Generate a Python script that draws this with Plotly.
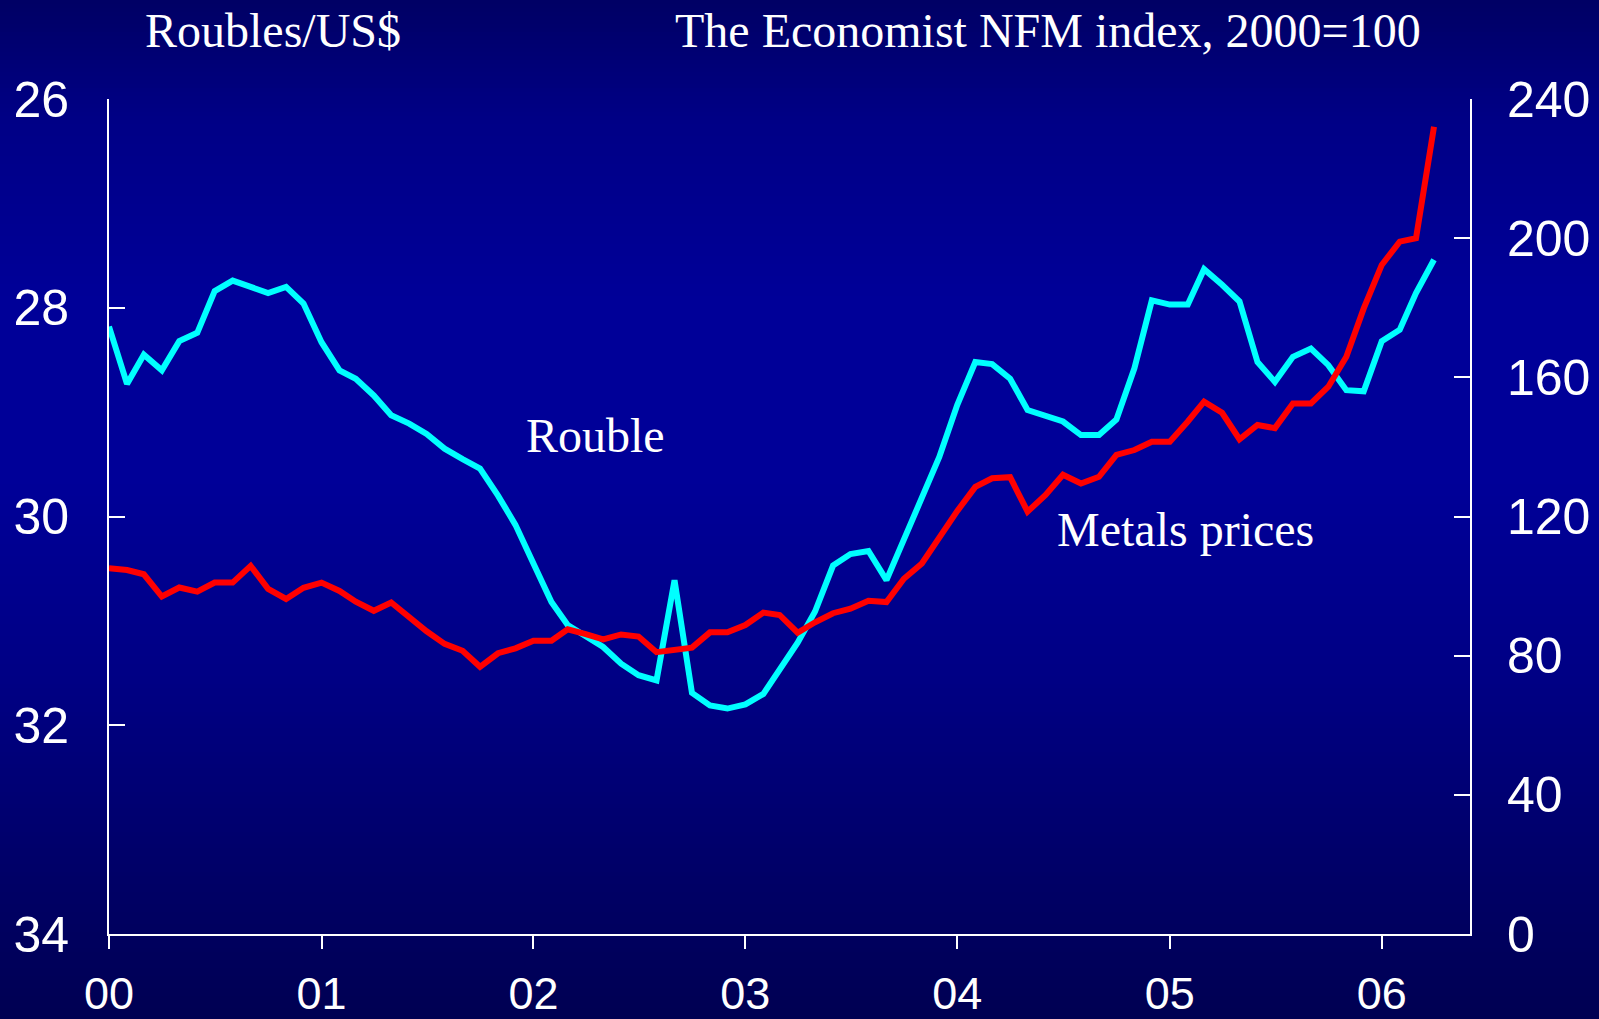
import pandas as pd
import plotly.graph_objects as go

# ---------------- data ----------------
months = pd.date_range("2000-01-01", periods=76, freq="MS")

rouble = [28.18, 28.73, 28.45, 28.60, 28.32, 28.24, 27.84, 27.74, 27.80, 27.86,
          27.80, 27.96, 28.33, 28.60, 28.68, 28.84, 29.03, 29.11, 29.21, 29.35,
          29.45, 29.54, 29.80, 30.08, 30.45, 30.82, 31.04, 31.15, 31.25, 31.41,
          31.52, 31.57, 30.61, 31.69, 31.81, 31.84, 31.80, 31.70, 31.46, 31.21,
          30.91, 30.47, 30.36, 30.33, 30.61, 30.22, 29.83, 29.43, 28.93, 28.52,
          28.54, 28.68, 28.98, 29.03, 29.09, 29.22, 29.22, 29.07, 28.58, 27.93,
          27.97, 27.97, 27.63, 27.78, 27.94, 28.52, 28.71, 28.47, 28.39, 28.55,
          28.79, 28.80, 28.32, 28.21, 27.86, 27.54]

metals = [105.1, 104.6, 103.4, 97.0, 99.6, 98.4, 101.0, 101.0, 105.8, 99.2,
          96.3, 99.5, 101.0, 98.6, 95.5, 92.9, 95.3, 91.0, 87.0, 83.4,
          81.4, 76.8, 80.7, 82.1, 84.3, 84.3, 87.6, 86.2, 84.7, 86.1,
          85.5, 81.0, 81.8, 82.3, 86.7, 86.7, 88.8, 92.4, 91.7, 86.6,
          89.6, 92.2, 93.5, 95.8, 95.4, 102.1, 106.5, 114.1, 121.6, 128.5,
          131.0, 131.3, 121.4, 126.2, 132.0, 129.5, 131.4, 137.7, 139.1, 141.5,
          141.5, 147.3, 153.0, 149.8, 142.2, 146.3, 145.4, 152.5, 152.5, 157.3,
          165.9, 179.8, 192.3, 199.0, 200.0, 232.0]

x_tickvals = ["2000-01-01", "2001-01-01", "2002-01-01", "2003-01-01",
              "2004-01-01", "2005-01-01", "2006-01-01"]
x_ticktext = ["00", "01", "02", "03", "04", "05", "06"]
left_ticks = [26, 28, 30, 32, 34]
right_ticks = [0, 40, 80, 120, 160, 200, 240]

# ---------------- layout geometry ----------------
W, H = 1599, 1019
L, R, T, B = 109, 129, 99, 85
PW, PH = W - L - R, H - T - B


def px_x(px):
    return (px - L) / PW


def px_y(py):
    return (H - B - py) / PH


fig = go.Figure()
fig.add_trace(go.Scatter(x=months, y=rouble, mode="lines", name="Rouble",
                         line=dict(color="#00FFFF", width=6), yaxis="y"))
fig.add_trace(go.Scatter(x=months, y=metals, mode="lines", name="Metals prices",
                         line=dict(color="#FF0000", width=6), yaxis="y2"))

# vertical gradient background built from thin bands
stops = [(0, 100), (120, 134), (300, 152), (480, 152), (680, 132), (860, 105), (1019, 82)]


def blue_at(py):
    for (y0, c0), (y1, c1) in zip(stops[:-1], stops[1:]):
        if y0 <= py <= y1:
            return c0 + (c1 - c0) * (py - y0) / (y1 - y0)
    return stops[-1][1]


shapes = []
band = 4
for py in range(-8, H + 8, band):
    b = int(round(blue_at(min(max(py + band / 2, 0), H))))
    shapes.append(dict(type="rect", xref="paper", yref="paper",
                       x0=-0.2, x1=1.3, y0=px_y(py + band), y1=px_y(py),
                       fillcolor=f"rgb(0,0,{b})", line=dict(width=0),
                       layer="below"))

serif = "Liberation Serif, Times New Roman, serif"
sans = "Liberation Sans, Arial, sans-serif"

annotations = [
    dict(text="Roubles/US$", x=px_x(273), y=px_y(30), xanchor="center", yanchor="middle"),
    dict(text="The Economist NFM index, 2000=100", x=px_x(1423), y=px_y(30),
         xanchor="right", yanchor="middle"),
    dict(text="Rouble", x=px_x(595), y=px_y(435), xanchor="center", yanchor="middle"),
    dict(text="Metals prices", x=px_x(1185), y=px_y(529), xanchor="center", yanchor="middle"),
]
for a in annotations:
    a.update(xref="paper", yref="paper", showarrow=False,
             font=dict(family=serif, size=48, color="white"))

axis_common = dict(showgrid=False, zeroline=False, showline=True, automargin=False,
                   linecolor="white", linewidth=2, tickcolor="white", tickwidth=2)

fig.update_layout(
    template="none",
    width=W, height=H, autosize=False,
    margin=dict(l=L, r=R, t=T, b=B, pad=0, autoexpand=False),
    paper_bgcolor="rgb(0,0,120)",
    plot_bgcolor="rgba(0,0,0,0)",
    showlegend=False,
    shapes=shapes,
    annotations=annotations,
    xaxis=dict(range=["2000-01-01", "2006-06-02"], tickmode="array",
               tickvals=x_tickvals, ticktext=x_ticktext,
               ticks="outside", ticklen=13, ticklabelstandoff=6,
               tickfont=dict(family=sans, size=45, color="white"),
               **axis_common),
    yaxis=dict(range=[34, 26], tickmode="array", tickvals=left_ticks,
               ticks="inside", ticklen=16, ticklabelstandoff=28,
               tickfont=dict(family=sans, size=50, color="white"),
               **axis_common),
    yaxis2=dict(range=[0, 240], tickmode="array", tickvals=right_ticks,
                overlaying="y", side="right",
                ticks="inside", ticklen=16, ticklabelstandoff=25,
                tickfont=dict(family=sans, size=50, color="white"),
                **axis_common),
)

fig.write_html("out.html",
               config={"displayModeBar": False},
               post_script="document.body.style.margin='0';"
                           "document.body.style.overflow='hidden';")
